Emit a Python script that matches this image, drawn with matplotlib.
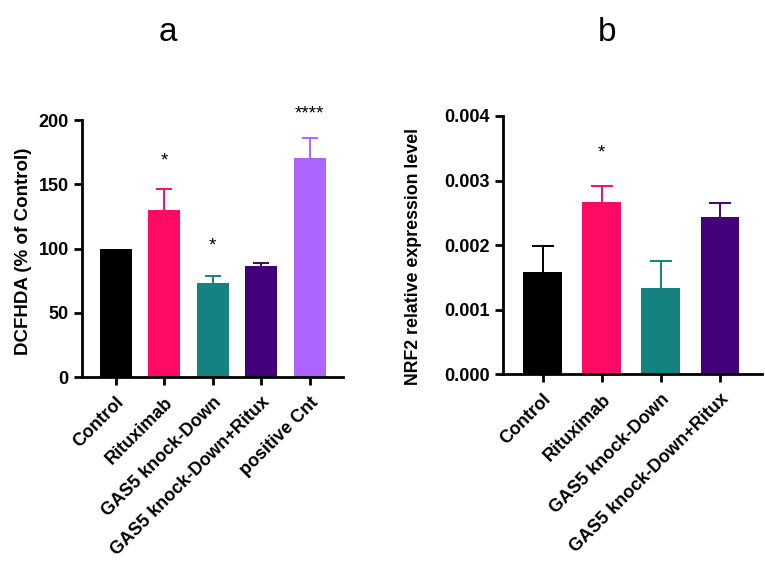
import matplotlib
matplotlib.use("Agg")
import matplotlib.pyplot as plt
import numpy as np

plt.rcParams['font.family'] = ['Liberation Sans', 'DejaVu Sans']

# Panel a data
cats_a = ["Control", "Rituximab", "GAS5 knock-Down", "GAS5 knock-Down+Ritux", "positive Cnt"]
vals_a = [100, 130, 73.5, 86.5, 170.5]
errs_a = [0, 16, 5.5, 2.5, 15.5]
stars_a = ["", "*", "*", "", "****"]
star_y_a = [None, 168, 102, None, 205]
colors_a = ["#000000", "#FF0A64", "#14837F", "#43007A", "#AE64FF"]

# Panel b data
cats_b = ["Control", "Rituximab", "GAS5 knock-Down", "GAS5 knock-Down+Ritux"]
vals_b = [0.00158, 0.00267, 0.00133, 0.00243]
errs_b = [0.00040, 0.00025, 0.00042, 0.00022]
stars_b = ["", "*", "", ""]
star_y_b = [None, 0.00342, None, None]
colors_b = ["#000000", "#FF0A64", "#14837F", "#43007A"]

fig = plt.figure(figsize=(7.65, 5.8), dpi=100)

def style_ax(ax):
    for s in ['top', 'right']:
        ax.spines[s].set_visible(False)
    for s in ['left', 'bottom']:
        ax.spines[s].set_linewidth(2.0)
    ax.tick_params(axis='both', width=2.0, length=6, labelsize=13)
    ax.tick_params(axis='x', pad=6)
    for lbl in ax.get_yticklabels():
        lbl.set_fontweight('bold')

def draw(ax, cats, vals, errs, colors, stars, star_y, capsize):
    x = np.arange(len(cats))
    for i in range(len(cats)):
        if errs[i] > 0:
            _, caps, _ = ax.errorbar(x[i], vals[i], yerr=[[0], [errs[i]]], fmt='none',
                                     ecolor=colors[i], elinewidth=1.4, capsize=capsize,
                                     capthick=1.4, zorder=1)
            for c in caps:
                if np.allclose(c.get_ydata(), vals[i]):
                    c.set_visible(False)
    ax.bar(x, vals, width=0.66, color=colors, zorder=2)
    for i, s in enumerate(stars):
        if s:
            ax.text(x[i], star_y[i], s, ha='center', va='center', fontsize=13.5)
    ax.set_xticks(x)
    ax.set_xticklabels(cats, rotation=45, ha='right', rotation_mode='anchor',
                       fontsize=13, fontweight='bold')

# Left panel
ax1 = fig.add_axes([0.107, 0.35, 0.341, 0.443])
draw(ax1, cats_a, vals_a, errs_a, colors_a, stars_a, star_y_a, 5.8)
ax1.set_xlim(-0.70, 4.68)
ax1.set_ylim(0, 200)
ax1.set_yticks([0, 50, 100, 150, 200])
ax1.set_ylabel("DCFHDA (% of Control)", fontsize=13.5, fontweight='bold')
ax1.yaxis.set_label_coords(-0.19, 0.49)
style_ax(ax1)

# Right panel
ax2 = fig.add_axes([0.657, 0.355, 0.339, 0.445])
draw(ax2, cats_b, vals_b, errs_b, colors_b, stars_b, star_y_b, 8)
ax2.set_xlim(-0.68, 3.71)
ax2.set_ylim(0, 0.004)
ax2.set_yticks([0, 0.001, 0.002, 0.003, 0.004])
ax2.set_yticklabels(["0.000", "0.001", "0.002", "0.003", "0.004"])
ax2.set_ylabel("NRF2 relative expression level", fontsize=12.8, fontweight='bold')
ax2.yaxis.set_label_coords(-0.31, 0.455)
style_ax(ax2)

fig.text(168/765, 1 - 40.7/580, "a", ha='center', va='baseline', fontsize=24)
fig.text(607/765, 1 - 40.7/580, "b", ha='center', va='baseline', fontsize=24)

fig.savefig("out.png", dpi=100)
